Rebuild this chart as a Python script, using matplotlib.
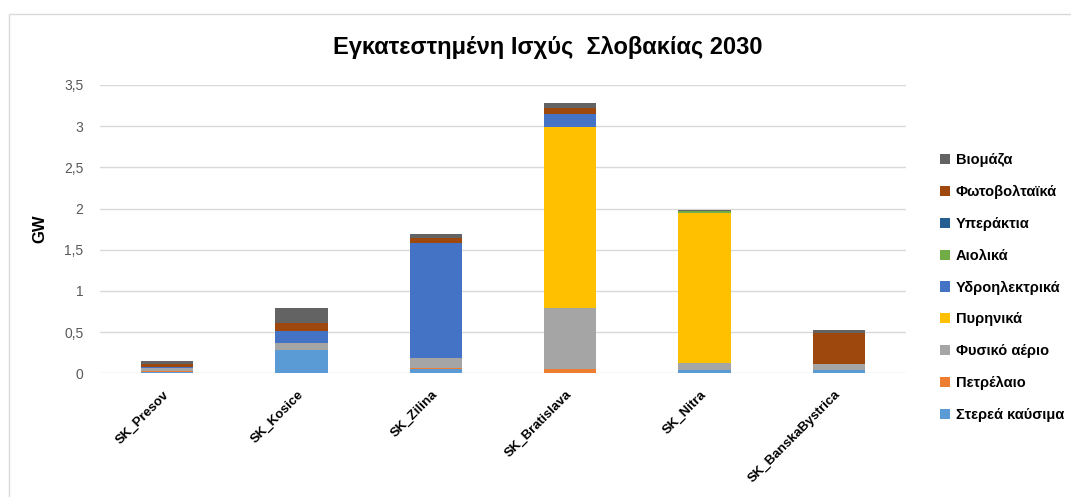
import numpy as np
import matplotlib
matplotlib.use('Agg')
import matplotlib.pyplot as plt
from matplotlib.patches import Rectangle

plt.rcParams['font.family'] = ['Liberation Sans', 'DejaVu Sans']

# regions and installed capacity (GW) per technology
regions = ['SK_Presov', 'SK_Kosice', 'SK_Zilina', 'SK_Bratislava', 'SK_Nitra', 'SK_BanskaBystrica']

solid   = [0.015, 0.28, 0.05, 0.00, 0.04, 0.04]
oil     = [0.01, 0.00, 0.01, 0.05, 0.00, 0.00]
gas     = [0.04, 0.09, 0.12, 0.74, 0.09, 0.07]
nuclear = [0.00, 0.00, 0.00, 2.20, 1.81, 0.00]
hydro   = [0.005, 0.14, 1.40, 0.16, 0.01, 0.00]
wind    = [0.00, 0.00, 0.00, 0.00, 0.015, 0.00]
offshore = [0.00, 0.00, 0.00, 0.00, 0.00, 0.00]
pv      = [0.045, 0.10, 0.06, 0.07, 0.00, 0.38]
biomass = [0.03, 0.18, 0.05, 0.06, 0.015, 0.03]

series = [
    ('Στερεά καύσιμα', solid, '#5B9BD5'),
    ('Πετρέλαιο', oil, '#ED7D31'),
    ('Φυσικό αέριο', gas, '#A5A5A5'),
    ('Πυρηνικά', nuclear, '#FFC000'),
    ('Υδροηλεκτρικά', hydro, '#4472C4'),
    ('Αιολικά', wind, '#70AD47'),
    ('Υπεράκτια', offshore, '#255E91'),
    ('Φωτοβολταϊκά', pv, '#9E480E'),
    ('Βιομάζα', biomass, '#636363'),
]

fig = plt.figure(figsize=(10.71, 4.97), dpi=100)
ax = fig.add_axes([0.0934, 0.249, 0.7526, 0.580])

# chart border
fig.patches.append(Rectangle((9 / 1071, -0.1), 1.1, 1 - 14 / 497 + 0.1, transform=fig.transFigure,
                             fill=False, edgecolor='#D9D9D9', linewidth=1))

x = np.arange(len(regions))
bottom = np.zeros(len(regions))
handles = []
for name, vals, col in series:
    b = ax.bar(x, vals, width=0.39, bottom=bottom, color=col, label=name, zorder=3)
    handles.append(b)
    bottom += np.array(vals)

ax.set_xlim(-0.5, len(regions) - 0.5)
ax.set_ylim(0, 3.5)
ax.set_yticks(np.arange(0, 3.51, 0.5))
ax.set_yticklabels(['0', '0,5', '1', '1,5', '2', '2,5', '3', '3,5'], fontsize=10, color='#595959')
ax.set_xticks(x)
ax.set_xticklabels(regions, rotation=45, ha='right', va='center', rotation_mode='anchor',
                   fontsize=9.5, fontweight='bold', color='black')
ax.tick_params(axis='both', length=0)
ax.tick_params(axis='y', pad=12)
ax.tick_params(axis='x', pad=14)
ax.grid(axis='y', color='#D9D9D9', linewidth=1, zorder=0)
for s in ax.spines.values():
    s.set_visible(False)

ax.set_ylabel('GW', fontsize=12, fontweight='bold', labelpad=12)

fig.text(0.511, 0.905, 'Εγκατεστημένη Ισχύς  Σλοβακίας 2030', ha='center', va='center',
         fontsize=17, fontweight='bold')

leg = fig.legend(handles[::-1], [s[0] for s in series][::-1], loc='upper left',
                 bbox_to_anchor=(0.865, 0.718), frameon=False,
                 prop={'size': 10.5, 'weight': 'bold'}, handlelength=0.7, handleheight=0.7,
                 handletextpad=0.4, labelspacing=1.22)

fig.savefig('out.png', dpi=100)
